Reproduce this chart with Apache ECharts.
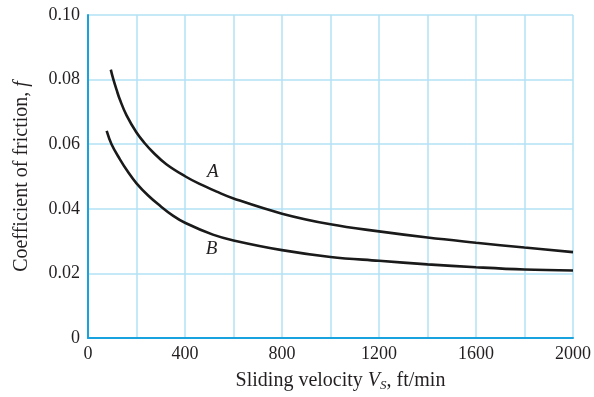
<!DOCTYPE html>
<html>
<head>
<meta charset="utf-8">
<script src="https://cdn.jsdelivr.net/npm/echarts@6/dist/echarts.min.js"></script>
<style>html,body{margin:0;padding:0;background:#fff}#c{width:594px;height:397px}</style>
</head>
<body>
<div id="c"></div>
<script>
var velocityA = [94, 104, 118, 131, 159, 200, 234, 268, 323, 402, 460, 528, 600, 800, 1000, 1200, 1400, 1600, 1800, 2000];
var frictionA = [0.0831, 0.0802, 0.0768, 0.0739, 0.0689, 0.0636, 0.0603, 0.0575, 0.0538, 0.0500, 0.0477, 0.0454, 0.0432, 0.0385, 0.0352, 0.0330, 0.0311, 0.0295, 0.0280, 0.0266];
var velocityB = [77, 97, 131, 166, 200, 248, 296, 350, 402, 515, 600, 800, 1000, 1200, 1400, 1600, 1800, 2000];
var frictionB = [0.0641, 0.0600, 0.0554, 0.0513, 0.0479, 0.0441, 0.0410, 0.0379, 0.0356, 0.0320, 0.0302, 0.0272, 0.0251, 0.0239, 0.0228, 0.0219, 0.0212, 0.0209];
var curveNames = ['A', 'B'];
var labelAt = [[515, 0.0515], [510, 0.0275]];

function pairs(xs, ys) { return xs.map(function (x, i) { return [x, ys[i]]; }); }

var FONT = '"Liberation Serif", "DejaVu Serif", serif';
var TXT = '#231f20';
var chart = echarts.init(document.getElementById('c'));
function curve(name, xs, ys, lp) {
  return {
    name: name, type: 'line', smooth: 0.4, showSymbol: false, symbol: 'none',
    data: pairs(xs, ys),
    lineStyle: { color: '#1a1a1a', width: 2.6 },
    markPoint: {
      symbol: 'circle', symbolSize: 0,
      data: [{ coord: lp, value: name }],
      label: { show: true, formatter: name, color: TXT, fontFamily: FONT, fontStyle: 'italic', fontSize: 19, position: 'inside' }
    },
    animation: false
  };
}
chart.setOption({
  animation: false,
  grid: { left: 88, right: 21, top: 15, bottom: 57 },
  xAxis: {
    type: 'value', min: 0, max: 2000, interval: 200,
    axisLine: { lineStyle: { color: '#19a3de', width: 2 } },
    axisTick: { show: false },
    splitLine: { lineStyle: { color: '#b3e2f6', width: 1.5 } },
    axisLabel: {
      color: TXT, fontFamily: FONT, fontSize: 18, margin: 7,
      formatter: function (v) { return v % 400 === 0 ? String(v) : ''; }
    },
    name: '{n|Sliding velocity }{i|V}{s|S}{n|, ft/min}',
    nameLocation: 'middle', nameGap: 31,
    nameTextStyle: {
      color: TXT, fontFamily: FONT, fontSize: 20, padding: [0, 0, 0, 20],
      rich: {
        n: { color: TXT, fontFamily: FONT, fontSize: 20 },
        i: { color: TXT, fontFamily: FONT, fontSize: 20, fontStyle: 'italic' },
        s: { color: TXT, fontFamily: FONT, fontSize: 13, fontStyle: 'italic', padding: [10, 0, 0, 0] }
      }
    }
  },
  yAxis: {
    type: 'value', min: 0, max: 0.1, interval: 0.02,
    axisLine: { show: true, lineStyle: { color: '#19a3de', width: 2 } },
    axisTick: { show: false },
    splitLine: { lineStyle: { color: '#b3e2f6', width: 1.5 } },
    axisLabel: {
      color: TXT, fontFamily: FONT, fontSize: 18, margin: 8,
      formatter: function (v) { return v === 0 ? '0' : v.toFixed(2); }
    },
    name: '{n|Coefficient of friction, }{i|f}',
    nameLocation: 'middle', nameGap: 56,
    nameTextStyle: {
      color: TXT, fontFamily: FONT, fontSize: 20,
      rich: {
        n: { color: TXT, fontFamily: FONT, fontSize: 20 },
        i: { color: TXT, fontFamily: FONT, fontSize: 20, fontStyle: 'italic' }
      }
    }
  },
  series: [
    curve(curveNames[0], velocityA, frictionA, labelAt[0]),
    curve(curveNames[1], velocityB, frictionB, labelAt[1])
  ]
});
</script>
</body>
</html>
